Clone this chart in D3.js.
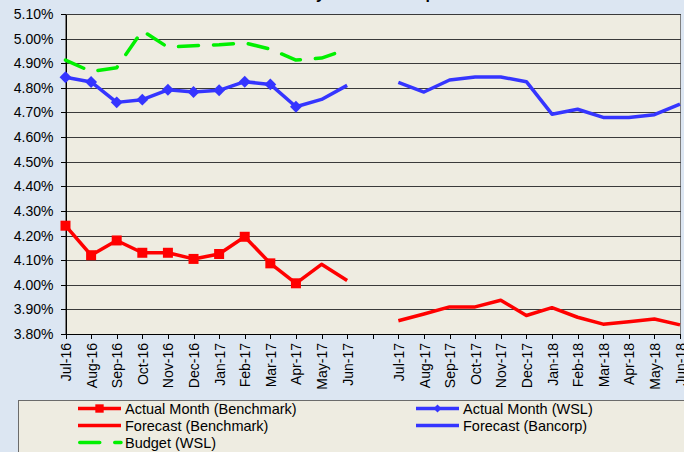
<!DOCTYPE html>
<html>
<head>
<meta charset="utf-8">
<script src="https://cdn.jsdelivr.net/npm/d3@7"></script>
<style>
  body { margin: 0; background: #dce6f2; }
  svg { display: block; font-family: "Liberation Sans", Arial, sans-serif; }
</style>
</head>
<body>
<div id="chart"></div>
<script>
// months on the x axis ("" is the empty slot between the two years)
const months = ["Jul-16", "Aug-16", "Sep-16", "Oct-16", "Nov-16", "Dec-16", "Jan-17", "Feb-17",
  "Mar-17", "Apr-17", "May-17", "Jun-17", "",
  "Jul-17", "Aug-17", "Sep-17", "Oct-17", "Nov-17", "Dec-17", "Jan-18", "Feb-18",
  "Mar-18", "Apr-18", "May-18", "Jun-18"]

const yTicks = [3.8, 3.9, 4.0, 4.1, 4.2, 4.3, 4.4, 4.5, 4.6, 4.7, 4.8, 4.9, 5.0, 5.1]

// null = no value for that month
const actualBenchmark = [4.24, 4.12, 4.18, 4.13, 4.13, 4.105, 4.125, 4.195, 4.087, 4.006,
  null, null, null, null, null, null, null, null, null, null, null, null, null, null, null]
const forecastBenchmark = [null, null, null, null, null, null, null, null, null, 4.006,
  4.083, 4.017, null, 3.854, 3.881, 3.91, 3.91, 3.937, 3.875, 3.907, 3.868, 3.84, 3.85, 3.861, 3.837]
const actualWSL = [4.843, 4.824, 4.741, 4.752, 4.792, 4.783, 4.79, 4.825, 4.814, 4.723,
  null, null, null, null, null, null, null, null, null, null, null, null, null, null, null]
const forecastBancorp = [null, null, null, null, null, null, null, null, null, 4.723,
  4.753, 4.81, null, 4.822, 4.783, 4.832, 4.844, 4.844, 4.825, 4.693, 4.713, 4.68, 4.68, 4.691, 4.734]
const budgetWSL = [4.913, 4.866, 4.882, 5.032, 4.965, 4.971, 4.975, 4.983, 4.957, 4.913, 4.921, 4.957,
  null, null, null, null, null, null, null, null, null, null, null, null, null]

const width = 684, height = 452
const plot = { left: 65.5, right: 680.5, top: 14, bottom: 334 }

const red = "#ff0000", blue = "#3535ff", green = "#00f000"

const svg = d3.select("#chart").append("svg")
  .attr("width", width)
  .attr("height", height)

svg.append("rect")
  .attr("width", width).attr("height", height)
  .attr("fill", "#dce6f2")

// title sits mostly above the visible area
svg.append("text")
  .attr("x", 393).attr("y", -1)
  .attr("text-anchor", "middle")
  .attr("font-size", 16).attr("font-weight", "bold")
  .text("Monthly interest rate performance")

var x = d3.scalePoint()
  .domain(d3.range(months.length))
  .range([plot.left, 680])

var y = d3.scaleLinear()
  .domain([3.8, 5.1])
  .range([plot.bottom, plot.top])

svg.append("rect")
  .attr("x", plot.left).attr("y", plot.top)
  .attr("width", plot.right - plot.left).attr("height", plot.bottom - plot.top)
  .attr("fill", "#eeece1")
  .attr("stroke", "#7f7f7f")
  .attr("shape-rendering", "crispEdges")

// gridlines
svg.append("g")
  .attr("transform", "translate(" + plot.left + ",0)")
  .call(d3.axisLeft(y).tickValues(yTicks).tickSize(-(plot.right - plot.left)).tickFormat(""))
  .call(g => g.select(".domain").remove())
  .call(g => g.selectAll("line").attr("stroke", "#3a3a3a").attr("shape-rendering", "crispEdges"))

// y axis
svg.append("g")
  .attr("transform", "translate(" + plot.left + ",0)")
  .call(d3.axisLeft(y).tickValues(yTicks).tickSize(5).tickSizeOuter(0)
    .tickFormat(d => d.toFixed(2) + "%"))
  .call(g => g.selectAll("text").attr("font-size", 14).attr("fill", "#000")
    .attr("font-family", "Liberation Sans, Arial, sans-serif").attr("x", -12))
  .call(g => g.selectAll("line, path").attr("stroke", "#000").attr("shape-rendering", "crispEdges"))

// x axis
svg.append("g")
  .attr("transform", "translate(0," + plot.bottom + ")")
  .call(d3.axisBottom(x).tickSize(5).tickSizeOuter(0).tickFormat(i => months[i]))
  .call(g => g.selectAll("line, path").attr("stroke", "#000").attr("shape-rendering", "crispEdges"))
  .call(g => g.selectAll("text")
    .attr("font-size", 14).attr("fill", "#000")
    .attr("font-family", "Liberation Sans, Arial, sans-serif")
    .attr("text-anchor", "end")
    .attr("transform", "rotate(-90)")
    .attr("x", -9).attr("y", 0).attr("dy", "0.36em"))

const line = d3.line()
  .defined(d => d != null)
  .x((d, i) => x(i))
  .y(d => y(d))

const series = [
  { values: budgetWSL, color: green, dash: "20,15" },
  { values: forecastBancorp, color: blue },
  { values: actualWSL, color: blue, marker: "diamond" },
  { values: forecastBenchmark, color: red },
  { values: actualBenchmark, color: red, marker: "square" },
]

series.forEach(s => {
  svg.append("path")
    .datum(s.values)
    .attr("fill", "none")
    .attr("stroke", s.color)
    .attr("stroke-width", 3.5)
    .attr("stroke-linejoin", "round")
    .attr("stroke-linecap", s.dash ? "round" : "butt")
    .attr("stroke-dasharray", s.dash || null)
    .attr("d", line)

  if (s.marker) {
    const sym = d3.symbol()
      .type(s.marker == "square" ? d3.symbolSquare : d3.symbolDiamond2)
      .size(s.marker == "square" ? 100 : 90)
    svg.append("g").selectAll("path")
      .data(s.values.map((v, i) => ({ v, i })).filter(d => d.v != null))
      .join("path")
        .attr("transform", d => "translate(" + x(d.i) + "," + y(d.v) + ")")
        .attr("d", sym)
        .attr("fill", s.color)
  }
})

/* ------- LEGEND -------*/
const legend = svg.append("g")
legend.append("rect")
  .attr("x", 18.5).attr("y", 400.5)
  .attr("width", 700).attr("height", 80)
  .attr("fill", "#eeece1")
  .attr("stroke", "#6b6b6b")

const legendItems = [
  { label: "Actual Month (Benchmark)", color: red, marker: "square", col: 0, row: 0 },
  { label: "Forecast (Benchmark)", color: red, col: 0, row: 1 },
  { label: "Budget (WSL)", color: green, dash: "20,15", col: 0, row: 2 },
  { label: "Actual Month (WSL)", color: blue, marker: "diamond", col: 1, row: 0 },
  { label: "Forecast (Bancorp)", color: blue, col: 1, row: 1 },
]
const colX = [78, 416], rowY = [408.5, 425.5, 442.5]

legendItems.forEach(it => {
  const x0 = colX[it.col], yy = rowY[it.row]
  legend.append("line")
    .attr("x1", x0 + (it.dash ? 1.75 : 0)).attr("x2", x0 + 43)
    .attr("y1", yy).attr("y2", yy)
    .attr("stroke", it.color).attr("stroke-width", 3.5)
    .attr("stroke-linecap", it.dash ? "round" : "butt")
    .attr("stroke-dasharray", it.dash || null)
  if (it.marker) {
    legend.append("path")
      .attr("transform", "translate(" + (x0 + 21.5) + "," + yy + ")")
      .attr("d", d3.symbol()
        .type(it.marker == "square" ? d3.symbolSquare : d3.symbolDiamond2)
        .size(it.marker == "square" ? 70 : 40))
      .attr("fill", it.color)
  }
  legend.append("text")
    .attr("x", x0 + 47).attr("y", yy)
    .attr("dy", "0.36em")
    .attr("font-size", 14.5)
    .text(it.label)
})
</script>
</body>
</html>
